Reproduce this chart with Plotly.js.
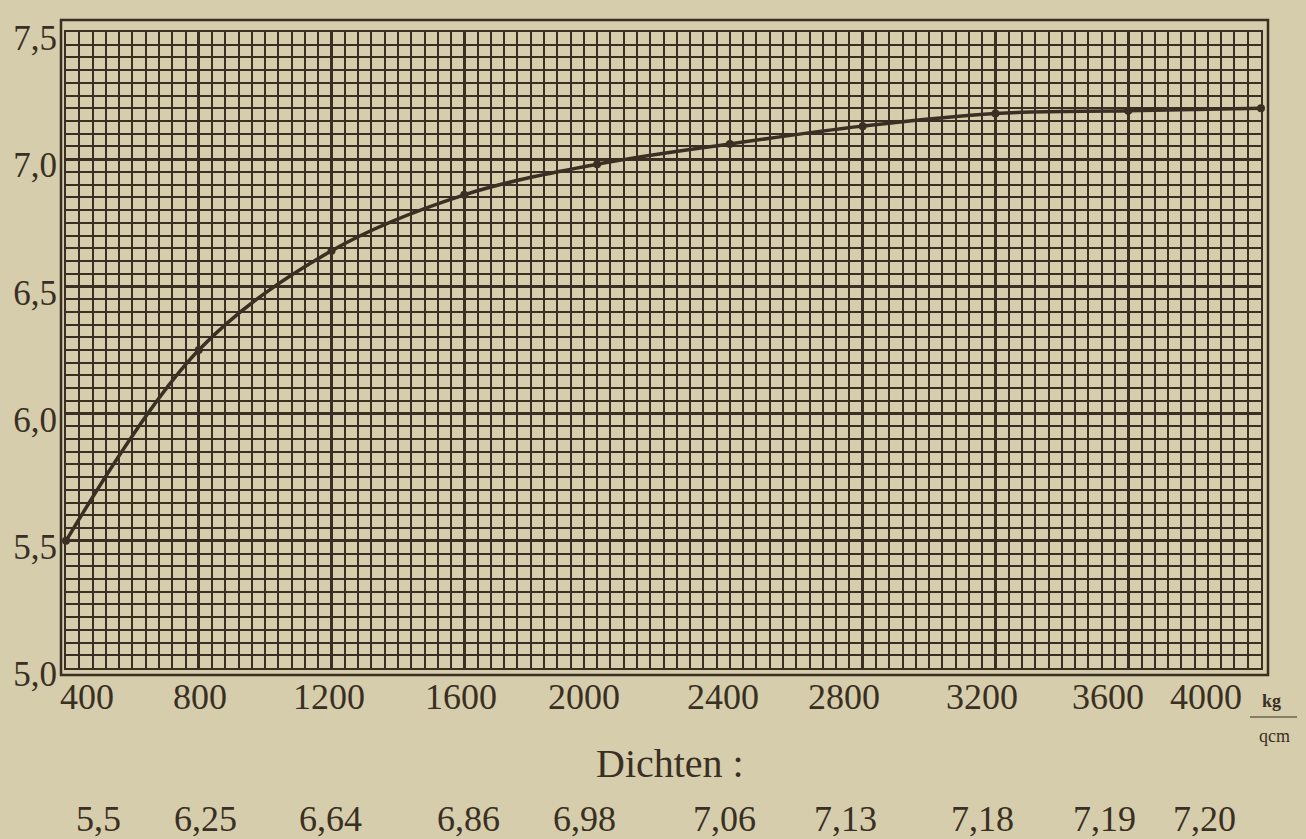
<!DOCTYPE html>
<html><head><meta charset="utf-8">
<script src="https://cdn.plot.ly/plotly-3.0.1.min.js"></script>
<style>html,body{margin:0;padding:0;background:#d5cdab;}#chart{width:1306px;height:839px;}</style>
</head><body><div id="chart"></div>
<script>
// ---- data ----
const pressures = [400, 800, 1200, 1600, 2000, 2400, 2800, 3200, 3600, 4000];
const densities = [5.5, 6.25, 6.64, 6.86, 6.98, 7.06, 7.13, 7.18, 7.19, 7.20];
const pressureLabels = ["400", "800", "1200", "1600", "2000", "2400", "2800", "3200", "3600", "4000"];
const densityLabels = ["5,5", "6,25", "6,64", "6,86", "6,98", "7,06", "7,13", "7,18", "7,19", "7,20"];
const yTickVals = [5.0, 5.5, 6.0, 6.5, 7.0, 7.5];
const yTickText = ["5,0", "5,5", "6,0", "6,5", "7,0", "7,5"];
const unitTop = "kg";
const unitBottom = "qcm";
const densitiesTitle = "Dichten :";

// ---- layout constants ----
const W = 1306, H = 839, L = 66, R = 45, T = 32, B = 171;
const pw = W - L - R, ph = H - T - B;
const px2x = p => (p - L) / pw;
const py2y = p => (H - B - p) / ph;
const ink = '#3a2f23';
const paperCol = '#d5cdab';
const font = '"Liberation Serif", "DejaVu Serif", serif';
const labelShift = [21, 1, -3, -3, -13, -7, -19, -13, -20, -55];
const valueShift = [32, 7, -1, 4, -13, -5, -17, -13, -24, -57];

const annotations = [];
pressures.forEach((p, i) => {
  annotations.push({xref: 'x', yref: 'paper', x: p, y: py2y(697), xshift: labelShift[i],
    text: pressureLabels[i], showarrow: false, xanchor: 'center', yanchor: 'middle',
    font: {family: font, size: 36, color: ink}});
  annotations.push({xref: 'x', yref: 'paper', x: p, y: py2y(819), xshift: valueShift[i],
    text: densityLabels[i], showarrow: false, xanchor: 'center', yanchor: 'middle',
    font: {family: font, size: 36, color: ink}});
});
annotations.push({xref: 'paper', yref: 'paper', x: px2x(670), y: py2y(763), text: densitiesTitle,
  showarrow: false, xanchor: 'center', yanchor: 'middle', font: {family: font, size: 40, color: ink}});
annotations.push({xref: 'paper', yref: 'paper', x: px2x(1271), y: py2y(701), text: '<b>' + unitTop + '</b>',
  showarrow: false, xanchor: 'center', yanchor: 'middle', font: {family: font, size: 18, color: ink}});
annotations.push({xref: 'paper', yref: 'paper', x: px2x(1274), y: py2y(736), text: unitBottom,
  showarrow: false, xanchor: 'center', yanchor: 'middle', font: {family: font, size: 18, color: ink}});

const shapes = [
  {type: 'rect', xref: 'paper', yref: 'paper', x0: px2x(61), x1: px2x(1268), y0: py2y(675), y1: py2y(20),
   line: {color: ink, width: 2.5}, fillcolor: 'rgba(0,0,0,0)', layer: 'above'},
  {type: 'line', xref: 'paper', yref: 'paper', x0: px2x(1250), x1: px2x(1297), y0: py2y(717), y1: py2y(717),
   line: {color: ink, width: 1.2}}
];

const trace = {
  x: pressures, y: densities, type: 'scatter', mode: 'lines+markers',
  line: {color: ink, width: 3.5, shape: 'spline', smoothing: 1},
  marker: {color: ink, size: 8}, cliponaxis: false, hoverinfo: 'x+y'
};

const layout = {
  width: W, height: H,
  margin: {l: L, r: R, t: T, b: B, pad: 0},
  paper_bgcolor: paperCol, plot_bgcolor: paperCol,
  showlegend: false,
  xaxis: {range: [400, 4000], tick0: 400, dtick: 400, showgrid: true, gridcolor: ink, gridwidth: 2.6,
    minor: {tick0: 400, dtick: 40, showgrid: true, gridcolor: ink, gridwidth: 2},
    showticklabels: false, ticks: '', zeroline: false, showline: true, mirror: true, linecolor: ink, linewidth: 2},
  yaxis: {range: [5.0, 7.5], tickvals: yTickVals, ticktext: yTickText, showgrid: true, gridcolor: ink, gridwidth: 2.6,
    minor: {tick0: 5.0, dtick: 0.05, showgrid: true, gridcolor: ink, gridwidth: 2},
    ticks: '', zeroline: false, showline: true, mirror: true, linecolor: ink, linewidth: 2,
    ticklabelstandoff: 0, ticklabelshift: 6,
    tickfont: {family: font, size: 35, color: ink}},
  annotations: annotations,
  shapes: shapes
};

Plotly.newPlot('chart', [trace], layout, {displayModeBar: false, staticPlot: true});
</script>
</body></html>
